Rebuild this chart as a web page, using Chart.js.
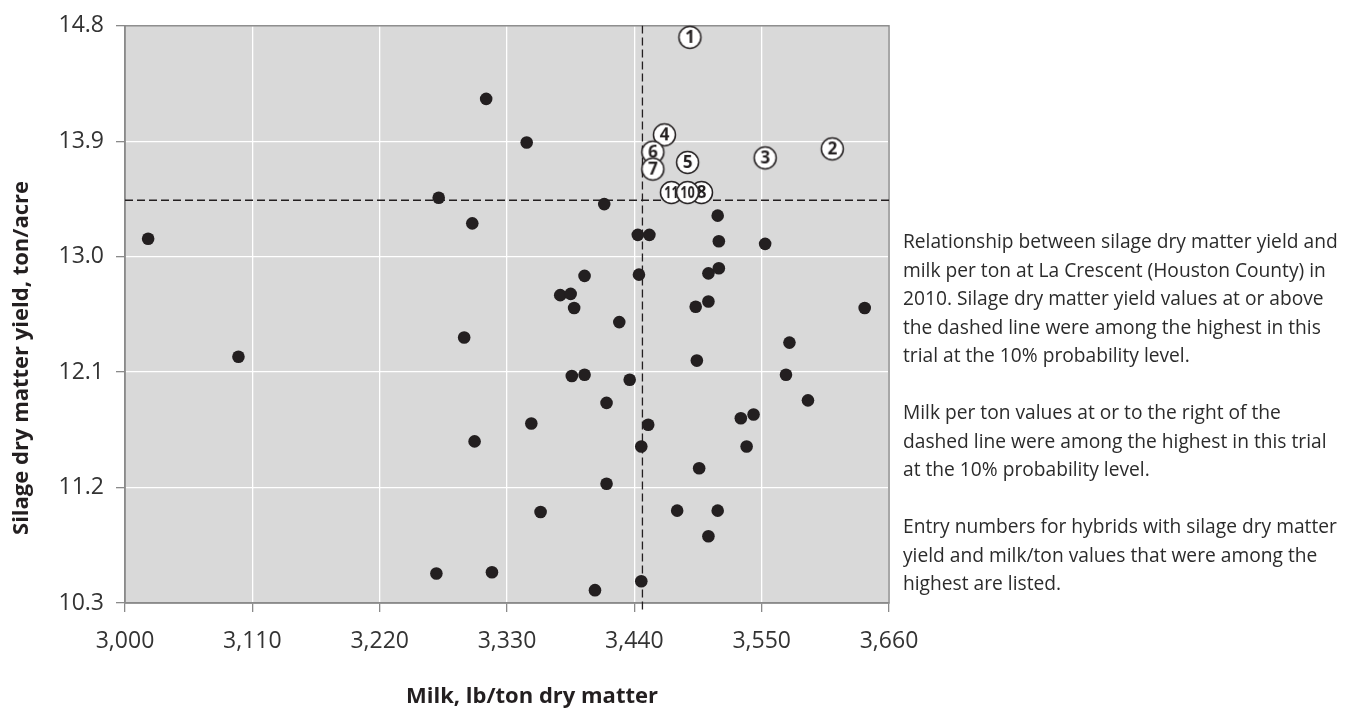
<!DOCTYPE html>
<html>
<head>
<meta charset="utf-8">
<script src="https://cdn.jsdelivr.net/npm/chart.js@4.4.1/dist/chart.umd.min.js"></script>
<style>
  html, body { margin: 0; padding: 0; background: #fff; }
  #wrap { position: relative; width: 1346px; height: 713px; }
</style>
</head>
<body>
<div id="wrap"><canvas id="chart" width="1346" height="713"></canvas></div>
<script>
// ---- data ----
const milk = [3020, 3271, 3300, 3312, 3347, 3414, 3443, 3453, 3512, 3513, 3553, 3397, 3444, 3504, 3513,
  3376, 3385, 3388, 3493, 3504, 3427, 3639, 3098, 3293, 3302, 3351, 3359, 3269, 3317, 3574, 3494,
  3386, 3397, 3436, 3571, 3590, 3416, 3452, 3532, 3543, 3446, 3537, 3496, 3416, 3477, 3512, 3504, 3446, 3406];
const yieldDM = [13.14, 13.46, 13.26, 14.23, 13.89, 13.41, 13.17, 13.17, 13.32, 13.12, 13.10, 12.85, 12.86, 12.87, 12.91,
  12.70, 12.71, 12.60, 12.61, 12.65, 12.49, 12.60, 12.22, 12.37, 11.56, 11.70, 11.01, 10.53, 10.54, 12.33, 12.19,
  12.07, 12.08, 12.04, 12.08, 11.88, 11.86, 11.69, 11.74, 11.77, 11.52, 11.52, 11.35, 11.23, 11.02, 11.02, 10.82, 10.47, 10.40];

// entries among the highest for both traits (drawn as numbered circles)
const topEntry = ['1', '2', '3', '4', '5', '6', '7', '11', '8', '10'];
const topMilk = [3488, 3611, 3553, 3466, 3486, 3456, 3456, 3472, 3498, 3486];
const topYield = [14.71, 13.84, 13.77, 13.95, 13.735, 13.815, 13.683, 13.50, 13.50, 13.50];

const xTicks = [3000, 3110, 3220, 3330, 3440, 3550, 3660];
const yTicks = [10.3, 11.2, 12.1, 13.0, 13.9, 14.8];

// 10% probability level cut-offs (dashed lines)
const milkCut = 3447;
const yieldCut = 13.44;

const xTitle = 'Milk, lb/ton dry matter';
const yTitle = 'Silage dry matter yield, ton/acre';
const note = [
  'Relationship between silage dry matter yield and',
  'milk per ton at La Crescent (Houston County) in',
  '2010. Silage dry matter yield values at or above',
  'the dashed line were among the highest in this',
  'trial at the 10% probability level.',
  '',
  'Milk per ton values at or to the right of the',
  'dashed line were among the highest in this trial',
  'at the 10% probability level.',
  '',
  'Entry numbers for hybrids with silage dry matter',
  'yield and milk/ton values that were among the',
  'highest are listed.'
];

const FONT = '"Open Sans", "DejaVu Sans", sans-serif';
const INK = '#231f20';

// numbered circle icons used as point styles
function circleIcon(label) {
  const r = 11, lw = 1.5;
  const size = Math.ceil(2 * r + 2 * lw + 2);
  const c = document.createElement('canvas');
  c.width = size; c.height = size;
  const g = c.getContext('2d');
  g.beginPath();
  g.arc(size / 2, size / 2, r, 0, Math.PI * 2);
  g.fillStyle = '#fff';
  g.fill();
  g.lineWidth = lw;
  g.strokeStyle = INK;
  g.stroke();
  g.fillStyle = INK;
  const two = label.length > 1;
  g.font = (two ? '700 16px ' : '700 17px ') + FONT;
  g.textAlign = 'center';
  g.textBaseline = 'middle';
  if (two) {
    // squeeze two-digit numbers to fit inside the ring
    g.save();
    g.translate(size / 2, size / 2 + 1);
    g.scale(0.78, 1);
    g.fillText(label, 0, 0);
    g.restore();
  } else {
    g.fillText(label, size / 2, size / 2 + 1);
  }
  return c;
}
const icons = topEntry.map(circleIcon);

// plot background, frame, titles and the side note
const decor = {
  id: 'decor',
  beforeDraw(chart) {
    const { ctx, chartArea: a } = chart;
    ctx.save();
    ctx.fillStyle = '#d9d9d9';
    ctx.fillRect(a.left, a.top, a.right - a.left, a.bottom - a.top);
    ctx.restore();
  },
  beforeDatasetsDraw(chart) {
    const { ctx, chartArea: a } = chart;
    ctx.save();
    ctx.strokeStyle = '#8a8a8a';
    ctx.lineWidth = 1.5;
    ctx.strokeRect(a.left, a.top, a.right - a.left, a.bottom - a.top);
    ctx.restore();
  },
  afterDraw(chart) {
    const { ctx } = chart;
    ctx.save();
    ctx.fillStyle = INK;
    ctx.font = 'bold 22px ' + FONT;
    ctx.textAlign = 'center';
    ctx.textBaseline = 'middle';
    ctx.fillText(xTitle, 532, 697);
    ctx.translate(22, 358);
    ctx.rotate(-Math.PI / 2);
    ctx.fillText(yTitle, 0, 0);
    ctx.restore();

    // side note, fitted to the reference line width
    ctx.save();
    ctx.fillStyle = '#2b2b2b';
    ctx.font = '18px ' + FONT;
    const w = ctx.measureText(note[0]).width;
    const size = 18 * 435 / w;
    ctx.font = size.toFixed(2) + 'px ' + FONT;
    ctx.textBaseline = 'middle';
    note.forEach((line, i) => ctx.fillText(line, 903, 243 + i * 28.5));
    ctx.restore();
  }
};

const ctx = document.getElementById('chart').getContext('2d');
new Chart(ctx, {
  type: 'scatter',
  data: {
    datasets: [
      {
        label: 'Top entries',
        data: topMilk.map((x, i) => ({ x, y: topYield[i] })),
        pointStyle: (c) => icons[c.dataIndex],
        pointRadius: 11,
        clip: false
      },
      {
        label: 'Hybrids',
        data: milk.map((x, i) => ({ x, y: yieldDM[i] })),
        pointRadius: 6.3,
        pointBackgroundColor: INK,
        pointBorderWidth: 0
      },
      {
        type: 'line',
        label: 'Milk cut-off',
        data: [{ x: milkCut, y: 10.25 }, { x: milkCut, y: 14.8 }],
        borderColor: INK,
        borderWidth: 1.3,
        borderDash: [8, 4],
        pointRadius: 0,
        clip: false
      },
      {
        type: 'line',
        label: 'Yield cut-off',
        data: [{ x: 3000, y: yieldCut }, { x: 3660, y: yieldCut }],
        borderColor: INK,
        borderWidth: 1.3,
        borderDash: [8, 4],
        pointRadius: 0
      }
    ]
  },
  options: {
    responsive: false,
    devicePixelRatio: 1,
    animation: false,
    layout: { padding: { top: 24, left: 0, right: 457, bottom: 0 } },
    plugins: { legend: { display: false }, tooltip: { enabled: false } },
    scales: {
      x: {
        type: 'linear',
        min: 3000,
        max: 3660,
        afterBuildTicks: (s) => { s.ticks = xTicks.map(v => ({ value: v })); },
        afterFit: (s) => { s.height = 110; },
        ticks: {
          callback: (v) => v.toLocaleString('en-US'),
          font: { family: FONT, size: 23 },
          color: '#333',
          padding: 16,
          maxRotation: 0
        },
        grid: { color: '#fff', lineWidth: 1.3, tickColor: '#8a8a8a', tickLength: 9, tickWidth: 1.3 },
        border: { display: true, color: '#8a8a8a', width: 1.5 }
      },
      y: {
        type: 'linear',
        min: 10.3,
        max: 14.8,
        afterBuildTicks: (s) => { s.ticks = yTicks.map(v => ({ value: v })); },
        afterFit: (s) => { s.width = 125; },
        ticks: {
          callback: (v) => v.toFixed(1),
          font: { family: FONT, size: 23 },
          color: '#333',
          padding: 12
        },
        grid: { color: '#fff', lineWidth: 1.3, tickColor: '#8a8a8a', tickLength: 9, tickWidth: 1.3 },
        border: { display: true, color: '#8a8a8a', width: 1.5 }
      }
    }
  },
  plugins: [decor]
});
</script>
</body>
</html>
